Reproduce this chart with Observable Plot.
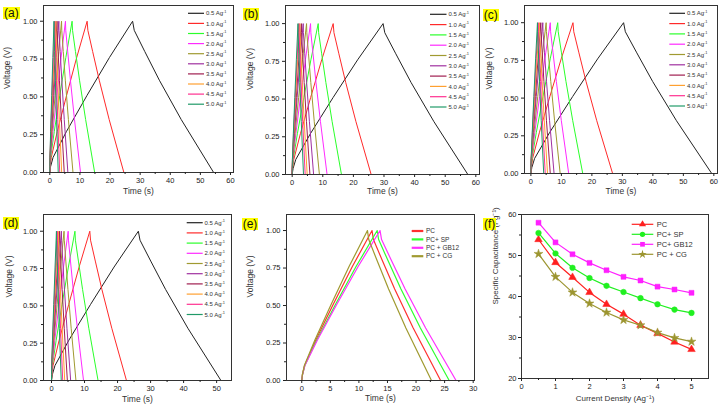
<!DOCTYPE html>
<html><head><meta charset="utf-8">
<script src="https://cdn.jsdelivr.net/npm/d3@7"></script>
<script src="https://cdn.jsdelivr.net/npm/@observablehq/plot@0.6"></script>
<style>
body{margin:0;background:#fff;}
#root{position:relative;width:720px;height:407px;overflow:hidden;font-family:"Liberation Sans",Arial,sans-serif;background:#fff;}
.panel{position:absolute;}
.tag{position:absolute;background:#ffff00;font-size:12px;line-height:12px;padding:0 1px;color:#111;}
svg.overlay{position:absolute;left:0;top:0;}
</style></head><body><div id="root"></div>
<script>
// ---------- data ----------
const currents = ["0.5","1.0","1.5","2.0","2.5","3.0","3.5","4.0","4.5","5.0"];
const currentColors = ["#222222","#ff2a2a","#2aff2a","#ff2aff","#a09a30","#a030a0","#a01e50","#ffa030","#ff3090","#209a68"];
// charge peak time and discharge end time (s) for each current density
const peakA = [27.5,12.4,7.4,5.2,3.9,3.0,2.4,2.0,1.65,1.4];
const endA  = [54.4,24.6,14.9,10.2,7.7,6.0,4.8,3.95,3.3,2.8];
const peakB = [29.7,13.4,8.5,6.0,4.7,3.6,3.0,2.5,2.2,1.9];
const endB  = [57.4,25.8,16.1,11.4,8.9,7.0,5.8,4.9,4.25,3.7];
const peakC = [30.4,13.8,8.8,6.35,5.0,3.9,3.25,2.8,2.4,2.15];
const endC  = [59.3,26.8,17.0,12.4,9.6,7.6,6.35,5.45,4.7,4.2];
const peakD = [26.3,11.6,7.1,5.05,3.8,3.0,2.45,2.05,1.75,1.5];
const endD  = [51.3,22.7,14.1,9.7,7.4,5.8,4.8,4.0,3.4,2.95];
const materialsE = ["PC","PC+ SP","PC + GB12","PC + CG"];
const colorsE = ["#ff3030","#30ff30","#ff30ff","#a09a30"];
const peakE = [12.3,13.2,13.7,11.5];
const endE  = [24.3,25.8,27.0,22.7];
// GCD curve profile: fraction of step time -> voltage
const chargeT = [0,0.01,0.04,0.2,0.45,0.72,1];
const chargeV = [0,0.04,0.10,0.27,0.51,0.76,1];
const dischargeT = [0,0.02,0.15,0.33,0.6,1];
const dischargeV = [1,0.94,0.80,0.61,0.35,0];
// panel (f)
const densities = [0.5,1,1.5,2,2.5,3,3.5,4,4.5,5];
const materialsF = ["PC","PC+ SP","PC+ GB12","PC + CG"];
const colorsF = ["#ff2020","#20f020","#ff20ff","#9c9530"];
const symbolsF = ["triangle","circle","square","star"];
const capPC = [53.9,48.3,44.7,41.0,38.1,35.7,33.0,31.0,28.9,27.1];
const capSP = [55.5,50.5,47.0,44.5,42.6,41.1,39.6,38.1,36.8,36.0];
const capGB = [58.0,53.2,50.3,48.2,46.4,44.8,43.9,42.4,41.7,40.9];
const capCG = [50.4,44.8,41.0,38.3,36.1,34.3,33.0,31.2,29.9,29.0];
// ticks
const vTicks = [0,0.25,0.5,0.75,1.0];
const vMinor = [0.125,0.375,0.625,0.875];

// ---------- helpers ----------
const FONT = '"Liberation Sans", Arial, sans-serif';
const root = document.getElementById("root");

function gcdRows(labels, peaks, ends) {
  const rows = [];
  labels.forEach((s, i) => {
    chargeT.forEach((f, k) => rows.push({s, t: peaks[i] * f, v: chargeV[k]}));
    dischargeT.forEach((f, k) => { if (k > 0) rows.push({s, t: peaks[i] + (ends[i] - peaks[i]) * f, v: dischargeV[k]}); });
  });
  return rows;
}
function place(node, left, top) {
  const d = document.createElement("div");
  d.className = "panel"; d.style.left = left + "px"; d.style.top = top + "px";
  d.appendChild(node); root.appendChild(d);
}
function tag(txt, left, top) {
  const d = document.createElement("div");
  d.className = "tag"; d.textContent = txt; d.style.left = left + "px"; d.style.top = top + "px";
  root.appendChild(d);
}
const intFmt = d => String(d);
function gcdPanel(c) {
  return Plot.plot({
    width: c.w, height: c.h,
    marginLeft: c.ml, marginRight: c.mr, marginTop: c.mt, marginBottom: c.mb,
    x: {domain: c.xd}, y: {domain: c.yd},
    color: {domain: c.labels, range: c.colors},
    style: {fontFamily: FONT, fontSize: "7.5px", color: "#222", background: "transparent", overflow: "visible"},
    marks: [
      Plot.line(c.rows, {x: "t", y: "v", z: "s", stroke: "s", strokeWidth: c.sw || 1}),
      Plot.frame({stroke: "#333"}),
      Plot.axisX({ticks: c.xt, tickSize: 3, tickPadding: 2, tickFormat: intFmt, label: null}),
      Plot.axisX({ticks: c.xm, tickSize: 2, fill: "none", label: null}),
      Plot.axisY({ticks: vTicks, tickSize: 3, tickPadding: 3, tickFormat: d3.format(".2f"), label: null}),
      Plot.axisY({ticks: vMinor, tickSize: 2, fill: "none", label: null}),
      Plot.text(["Voltage (V)"], {text: d => d, frameAnchor: "left", dx: c.ylx, rotate: -90, fontSize: 8.5, fill: "#333"}),
      Plot.text(["Time (s)"], {text: d => d, frameAnchor: "bottom", dy: c.xly, fontSize: 8.5, fill: "#333"})
    ]
  });
}

// ---------- panels a-e ----------
const tens60 = [0,10,20,30,40,50,60], fives60 = [5,15,25,35,45,55];
place(gcdPanel({w:240,h:200,ml:43,mr:7,mt:5,mb:28,xd:[-2.09,61.0],yd:[0,1.104],xt:tens60,xm:fives60,
  labels:currents,colors:currentColors,rows:gcdRows(currents,peakA,endA),ylx:-36,xly:21}), 0, 0);
place(gcdPanel({w:240,h:200,ml:45,mr:1,mt:5,mb:26,xd:[-2.18,61.2],yd:[0,1.12],xt:tens60,xm:fives60,
  labels:currents,colors:currentColors,rows:gcdRows(currents,peakB,endB),ylx:-35,xly:19.5}), 240, 0);
place(gcdPanel({w:240,h:200,ml:44,mr:3,mt:5,mb:27,xd:[-2.1,61.2],yd:[0,1.114],xt:tens60,xm:fives60,
  labels:currents,colors:currentColors,rows:gcdRows(currents,peakC,endC),ylx:-35,xly:20}), 480, 0);
place(gcdPanel({w:240,h:207,ml:43,mr:9,mt:14,mb:27,xd:[-2.42,54.5],yd:[0,1.112],xt:[0,10,20,30,40,50],xm:[5,15,25,35,45],
  labels:currents,colors:currentColors,rows:gcdRows(currents,peakD,endD),ylx:-34.5,xly:21}), 0, 200);
place(gcdPanel({w:240,h:207,ml:46,mr:6,mt:14,mb:27,xd:[-2.67,30.23],yd:[0,1.107],xt:[0,5,10,15,20,25,30],xm:[2.5,7.5,12.5,17.5,22.5,27.5],
  labels:materialsE,colors:colorsE,rows:gcdRows(materialsE,peakE,endE),ylx:-36,xly:20,sw:1.2}), 240, 200);

// ---------- panel f ----------
const capSeries = [capPC, capSP, capGB, capCG];
const fRows = [];
materialsF.forEach((m, i) => densities.forEach((d, k) => fRows.push({m, d, c: capSeries[i][k]})));
place(Plot.plot({
  width: 240, height: 207, marginLeft: 41, marginRight: 12, marginTop: 14, marginBottom: 29,
  x: {domain: [0, 5.5]}, y: {domain: [20, 60]},
  color: {domain: materialsF, range: colorsF},
  symbol: {domain: materialsF, range: symbolsF},
  style: {fontFamily: FONT, fontSize: "7.5px", color: "#222", background: "transparent", overflow: "visible"},
  marks: [
    Plot.line(fRows, {x: "d", y: "c", z: "m", stroke: "m", strokeWidth: 1.2}),
    Plot.dot(fRows, {x: "d", y: "c", symbol: "m", fill: "m", stroke: "m", strokeWidth: 0.5, r: 2.8}),
    Plot.frame({stroke: "#333"}),
    Plot.axisX({ticks: [0,1,2,3,4,5], tickSize: 3, tickPadding: 2, tickFormat: intFmt, label: null}),
    Plot.axisX({ticks: [0.5,1.5,2.5,3.5,4.5], tickSize: 2, fill: "none", label: null}),
    Plot.axisY({ticks: [20,30,40,50,60], tickSize: 3, tickPadding: 2, tickFormat: intFmt, label: null}),
    Plot.axisY({ticks: [25,35,45,55], tickSize: 2, fill: "none", label: null}),
    Plot.text(["Specific Capacitance (Fg\u207B\u00B9)"], {text: d => d, frameAnchor: "left", dx: -26, dy: 8, rotate: -90, fontSize: 8, fill: "#333"}),
    Plot.text(["Current Density (Ag\u207B\u00B9)"], {text: d => d, frameAnchor: "bottom", dy: 22, fontSize: 8, fill: "#333", letterSpacing: "0.6px"})
  ]
}), 480, 200);

// ---------- legends (overlay) ----------
const ov = d3.select(root).append("svg").attr("class", "overlay").attr("width", 720).attr("height", 407)
  .style("font-family", FONT);
function legend(labels, colors, o) {
  labels.forEach((lab, i) => {
    const y = o.y0 + i * o.dy;
    ov.append("line").attr("x1", o.x0).attr("x2", o.x1).attr("y1", y).attr("y2", y)
      .attr("stroke", colors[i]).attr("stroke-width", o.sw || 1.2);
    if (o.symbols) {
      ov.append("path").attr("d", d3.symbol(o.symbols[i], o.symSize)())
        .attr("transform", `translate(${(o.x0 + o.x1) / 2},${y})`).attr("fill", colors[i]);
    }
    const t = ov.append("text").attr("x", o.tx).attr("y", y).attr("dy", "0.35em")
      .attr("font-size", o.fs).attr("fill", "#333").text(lab + (o.unit ? " Ag" : ""));
    if (o.unit) t.append("tspan").attr("dy", "-0.6em").attr("font-size", o.fs * 0.65).text("-1");
  });
}
legend(currents, currentColors, {x0: 188, x1: 204, tx: 206, y0: 13.3, dy: 10.1, fs: 6, unit: true});
legend(currents, currentColors, {x0: 430, x1: 446.5, tx: 448.5, y0: 14.3, dy: 10.3, fs: 6, unit: true});
legend(currents, currentColors, {x0: 669.3, x1: 685, tx: 687, y0: 13.3, dy: 10.3, fs: 6, unit: true});
legend(currents, currentColors, {x0: 186.7, x1: 202.7, tx: 204.5, y0: 222.7, dy: 10.2, fs: 6, unit: true});
legend(materialsE, colorsE, {x0: 411.7, x1: 423.3, tx: 426, y0: 231, dy: 8.4, fs: 6.5, sw: 2.2});
legend(materialsF, colorsF, {x0: 631.7, x1: 653.3, tx: 656.7, y0: 224.3, dy: 10, fs: 7.5, sw: 1.2,
  symbols: [d3.symbolTriangle, d3.symbolCircle, d3.symbolSquare, d3.symbolStar], symSize: 22});

// ---------- panel tags ----------
tag("(a)", 3, 7); tag("(b)", 242.7, 8.3); tag("(c)", 482.7, 9.3);
tag("(d)", 2.7, 216.7); tag("(e)", 241.7, 218); tag("(f)", 483, 218);
</script></body></html>
